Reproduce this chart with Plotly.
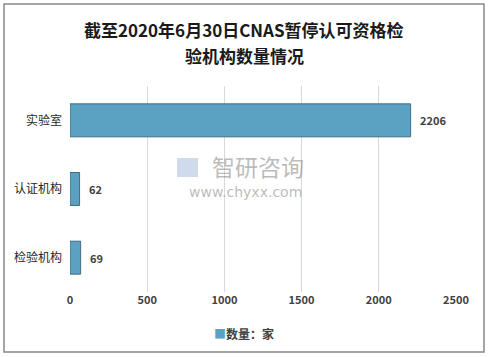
import plotly.graph_objects as go

categories = ["实验室", "认证机构", "检验机构"]
values = [2206, 62, 69]
series_name = "数量：家"
tick_vals = [0, 500, 1000, 1500, 2000, 2500]
title_lines = ["截至2020年6月30日CNAS暂停认可资格检", "验机构数量情况"]

font_cjk = "Noto Sans CJK SC"
bar_color = "#5ba2c2"

fig = go.Figure()
fig.add_trace(go.Bar(
    y=categories, x=values, orientation="h", name=series_name,
    marker=dict(color=bar_color, line=dict(color="#3e6e85", width=1)),
    width=0.48, showlegend=False,
))

for c, v in zip(categories, values):
    fig.add_annotation(x=v, y=c, xref="x", yref="y", text=str(v), showarrow=False,
                       xanchor="left", yanchor="middle", xshift=7,
                       font=dict(family=font_cjk, size=11, color="#404040", weight="bold"))

L, R, T, B = 70, 33, 86, 65
W, H = 489, 357
pw, ph = W - L - R, H - T - B

def px(x):
    return (x - L) / pw

def py(y):
    return (H - B - y) / ph

fig.update_layout(
    width=W, height=H, margin=dict(l=L, r=R, t=T, b=B, autoexpand=False),
    paper_bgcolor="white", plot_bgcolor="white",
    xaxis=dict(range=[0, 2500], tickvals=tick_vals, showgrid=True, gridcolor="#d9d9d9",
               gridwidth=1, zeroline=False, showline=False, ticks="", automargin=False,
               tickfont=dict(family=font_cjk, size=11, color="#404040", weight="bold")),
    yaxis=dict(autorange="reversed", showgrid=False, showline=False, ticks="",
               ticklabelstandoff=7, automargin=False,
               tickfont=dict(family=font_cjk, size=12, color="#262626")),
    showlegend=False,
)

for i, line in enumerate(title_lines):
    fig.add_annotation(text=line, xref="paper", yref="paper", x=px(244), y=py(30 + 25 * i),
                       xanchor="center", yanchor="middle", showarrow=False,
                       font=dict(family=font_cjk, size=17, color="#1a1a1a", weight="bold"))

# legend (marker square + series name)
fig.add_annotation(text=f"<span style='color:{bar_color}'>■</span>{series_name}",
                   xref="paper", yref="paper", x=px(212), y=py(333),
                   xanchor="left", yanchor="middle", showarrow=False,
                   font=dict(family=font_cjk, size=12, color="#404040", weight="bold"))

fig.add_shape(type="rect", xref="paper", yref="paper",
              x0=px(4), x1=px(484), y0=py(352), y1=py(4),
              line=dict(color="#888888", width=1.5), fillcolor="rgba(0,0,0,0)", layer="below")

# watermark
fig.add_shape(type="rect", xref="paper", yref="paper",
              x0=px(177), x1=px(198), y0=py(177), y1=py(158),
              line=dict(width=0), fillcolor="rgba(120,150,200,0.35)", layer="above")
fig.add_annotation(text="智研咨询", xref="paper", yref="paper", x=px(258), y=py(166),
                   yanchor="middle", showarrow=False,
                   font=dict(family=font_cjk, size=23, color="rgba(120,120,120,0.5)"))
fig.add_annotation(text="www.chyxx.com", xref="paper", yref="paper", x=px(245), y=py(192),
                   yanchor="middle", showarrow=False,
                   font=dict(family="DejaVu Sans", size=14, color="rgba(120,120,120,0.5)"))

fig.write_html("out.html", config={"displayModeBar": False},
               post_script="document.body.style.margin='0';")
